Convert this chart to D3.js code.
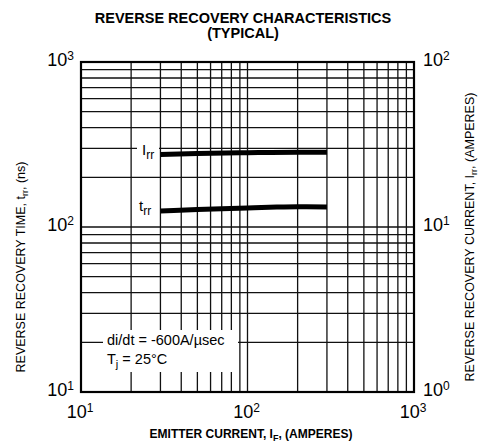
<!DOCTYPE html>
<html><head><meta charset="utf-8">
<script src="https://cdn.jsdelivr.net/npm/d3@7/dist/d3.min.js"></script>
<style>body{margin:0;background:#fff}svg{display:block}text{font-family:"Liberation Sans",Arial,Helvetica,sans-serif;fill:#000}</style>
</head><body>
<script>
// Data
const xTicks = [10, 100, 1000];
const yLeftTicks = [10, 100, 1000];
const yRightTicks = [1, 10, 100];
const tickExp = {10:"1", 100:"2", 1000:"3", 1:"0"};
const irrCurrent = [30, 50, 100, 200, 300];
const irrValues  = [27.5, 27.9, 28.2, 28.4, 28.4];
const trrCurrent = [30, 50, 70, 100, 150, 200, 300];
const trrValues  = [125, 127.5, 129, 130.5, 132, 132.5, 132];

const W = 481, H = 443;
const svg = d3.select("body").append("svg").attr("width", W).attr("height", H);
const L = 81, R = 414, T = 62, B = 392;
const x = d3.scaleLog().domain([10, 1000]).range([L, R]);
const yL = d3.scaleLog().domain([10, 1000]).range([B, T]);
const yR = d3.scaleLog().domain([1, 100]).range([B, T]);

// grid
const gx = [], gy = [];
for (const d of [10, 100]) for (let m = 1; m <= 9; m++) { gx.push(m * d); gy.push(m * d); }
const grid = svg.append("g").attr("stroke", "#111").attr("stroke-width", 1.3);
grid.selectAll("line.v").data(gx).join("line").attr("class","v")
  .attr("x1", d => x(d)).attr("x2", d => x(d)).attr("y1", T).attr("y2", B);
grid.selectAll("line.h").data(gy).join("line").attr("class","h")
  .attr("y1", d => yL(d)).attr("y2", d => yL(d)).attr("x1", L).attr("x2", R);
svg.append("rect").attr("x", L).attr("y", T).attr("width", R - L).attr("height", B - T)
  .attr("fill", "none").attr("stroke", "#000").attr("stroke-width", 2.2);

// label boxes (white backgrounds)
svg.append("rect").attr("x", 103).attr("y", 330).attr("width", 135).attr("height", 42).attr("fill", "#fff");
svg.append("rect").attr("x", 137).attr("y", 142).attr("width", 22).attr("height", 17).attr("fill", "#fff");
svg.append("rect").attr("x", 137).attr("y", 200).attr("width", 22).attr("height", 17).attr("fill", "#fff");

// curves
const line = d3.line().curve(d3.curveMonotoneX);
svg.append("path").attr("d", line(irrCurrent.map((c, i) => [x(c), yR(irrValues[i])])))
  .attr("fill", "none").attr("stroke", "#000").attr("stroke-width", 5);
svg.append("path").attr("d", line(trrCurrent.map((c, i) => [x(c), yL(trrValues[i])])))
  .attr("fill", "none").attr("stroke", "#000").attr("stroke-width", 5);

// curve labels
function subLabel(xp, yp, main, sub, size) {
  const t = svg.append("text").attr("x", xp).attr("y", yp).attr("font-size", size);
  t.append("tspan").text(main);
  t.append("tspan").attr("dy", 4).attr("font-size", size * 0.8).text(sub);
  return t;
}
subLabel(142, 155, "I", "rr", 15);
subLabel(139, 211, "t", "rr", 15);

// annotation
svg.append("text").attr("x", 107).attr("y", 345).attr("font-size", 14.5).text("di/dt = -600A/\u00B5sec");
const tj = svg.append("text").attr("x", 107).attr("y", 364).attr("font-size", 14.5);
tj.append("tspan").text("T");
tj.append("tspan").attr("dy", 4).attr("font-size", 11).text("j");
tj.append("tspan").attr("dy", -4).text(" = 25\u00B0C");

// tick labels
function powLabel(g, xp, yp, v, anchor) {
  const t = g.append("text").attr("x", xp).attr("y", yp).attr("font-size", 18).attr("text-anchor", anchor);
  t.append("tspan").text("10");
  t.append("tspan").attr("dy", -6).attr("font-size", 12).text(tickExp[v]);
}
const tg = svg.append("g");
yLeftTicks.forEach(v => powLabel(tg, 74, yL(v) + 4, v, "end"));
yRightTicks.forEach(v => powLabel(tg, 423, yR(v) + 4, v, "start"));
xTicks.forEach(v => powLabel(tg, x(v) - 1, 418, v, "middle"));

// titles
svg.append("text").attr("x", 243).attr("y", 23).attr("text-anchor", "middle").attr("font-size", 14.5)
  .attr("font-weight", "bold").text("REVERSE RECOVERY CHARACTERISTICS");
svg.append("text").attr("x", 243).attr("y", 38).attr("text-anchor", "middle").attr("font-size", 14.5)
  .attr("font-weight", "bold").text("(TYPICAL)");

const xl = svg.append("text").attr("x", 251).attr("y", 438).attr("text-anchor", "middle")
  .attr("font-size", 12).attr("font-weight", "bold");
xl.append("tspan").text("EMITTER CURRENT, I");
xl.append("tspan").attr("dy", 3).attr("font-size", 9).text("F");
xl.append("tspan").attr("dy", -3).text(", (AMPERES)");

const ylL = svg.append("text").attr("transform", "translate(25,267) rotate(-90)").attr("text-anchor", "middle")
  .attr("font-size", 12.5);
ylL.append("tspan").text("REVERSE RECOVERY TIME, t");
ylL.append("tspan").attr("dy", 3).attr("font-size", 9).text("rr");
ylL.append("tspan").attr("dy", -3).text(", (ns)");

const ylR = svg.append("text").attr("transform", "translate(474,237) rotate(-90)").attr("text-anchor", "middle")
  .attr("font-size", 12.5);
ylR.append("tspan").text("REVERSE RECOVERY CURRENT, I");
ylR.append("tspan").attr("dy", 3).attr("font-size", 9).text("rr");
ylR.append("tspan").attr("dy", -3).text(", (AMPERES)");
</script>
</body></html>
